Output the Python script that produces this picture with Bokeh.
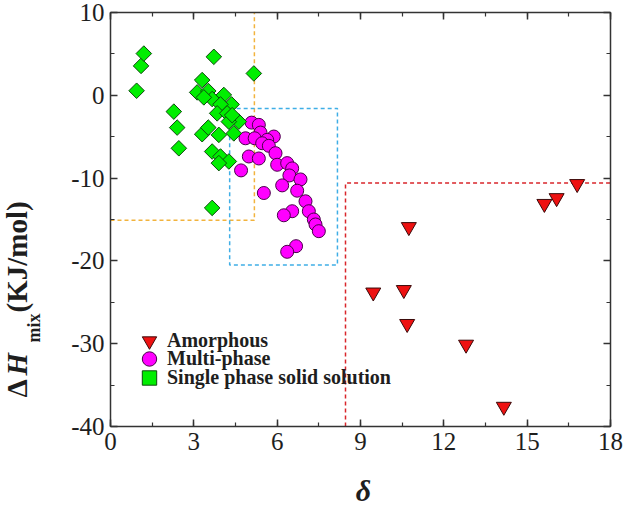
import numpy as np
from bokeh.plotting import figure
from bokeh.layouts import row, column
from bokeh.models import (Legend, LegendItem, LinearAxis, SingleIntervalTicker,
                          Range1d, PrintfTickFormatter)
from bokeh.core.properties import value
from bokeh.embed import file_html
from bokeh.resources import INLINE

# ---------------- data ----------------
amor_x = [16.8, 16.06, 15.62, 10.74, 9.46, 10.56, 10.68, 12.8, 14.16]
amor_y = [-10.7, -12.4, -13.1, -15.9, -23.8, -23.5, -27.6, -30.1, -37.6]

multi_x = [5.08, 5.34, 4.86, 5.40, 5.19, 5.88, 5.64, 5.46, 5.70, 5.94,
           4.98, 5.34, 6.00, 6.36, 6.54, 4.70, 6.44, 6.84, 6.18, 6.72,
           5.52, 7.02, 7.14, 6.54, 6.24, 7.32, 7.38, 7.50, 6.68, 6.36]
multi_y = [-3.3, -3.57, -5.19, -4.5, -5.19, -4.98, -5.38, -5.79, -6.1, -6.99,
           -7.39, -7.63, -8.39, -8.19, -8.83, -9.07, -9.68, -10.16, -10.88, -11.52,
           -11.8, -12.8, -14.0, -14.0, -14.49, -15.0, -15.6, -16.41, -18.22, -18.9]

single_x = [0.94, 1.10, 1.20, 2.28, 2.40, 2.46, 3.72, 5.16, 3.30, 3.12,
            3.52, 3.66, 4.08, 4.36, 3.96, 3.84, 4.20, 4.62, 4.26, 3.30,
            3.52, 3.90, 4.44, 3.66, 3.96, 4.26, 3.90, 3.66, 4.38, 3.36]
single_y = [0.55, 3.55, 5.04, -1.97, -3.9, -6.4, 4.65, 2.64, 1.84, 0.35,
            0.52, -0.45, 0.04, -1.1, -1.1, -2.18, -2.18, -3.18, -3.18, -4.7,
            -3.9, -4.78, -4.6, -6.79, -7.39, -7.99, -8.19, -13.6, -2.4, -0.25]

# threshold regions
ss_delta_max, ss_h_min = 5.18, -15.1                     # orange
mp_box = (4.29, 8.17, -20.5, -1.58)                      # blue: x0, x1, y0, y1
am_delta_min, am_h_max = 8.46, -10.6                     # red

labels = ["Amorphous", "Multi-phase", "Single phase solid solution"]
x_tick_interval, y_tick_interval = 3, 10

SERIF = "Liberation Serif"
INK = "#1e1e1e"

LEFT_W = 46
MAIN_W, MAIN_H = 637 - LEFT_W, 470
BOT_H = 508 - MAIN_H

# ---------------- main plot ----------------
p = figure(width=MAIN_W, height=MAIN_H, output_backend="svg", toolbar_location=None,
           x_range=Range1d(0, 18), y_range=Range1d(-40, 10),
           x_axis_type=None, y_axis_type=None,
           min_border_left=110 - LEFT_W, min_border_right=27,
           min_border_top=12, min_border_bottom=MAIN_H - 426)
p.outline_line_color = None
p.background_fill_color = "white"
p.border_fill_color = "white"


def style_axis(ax, show_labels):
    ax.axis_line_color = "#333333"
    ax.axis_line_width = 1.5
    ax.major_tick_line_color = "#333333"
    ax.minor_tick_line_color = "#333333"
    ax.major_tick_line_width = 1.5
    ax.minor_tick_line_width = 1.2
    ax.major_tick_in = 7
    ax.major_tick_out = 0
    ax.minor_tick_in = 4
    ax.minor_tick_out = 0
    ax.formatter = PrintfTickFormatter(format="%d")
    if show_labels:
        ax.major_label_text_font = SERIF
        ax.major_label_text_font_size = "25px"
        ax.major_label_text_color = INK
        ax.major_label_standoff = 6
    else:
        ax.major_label_text_font_size = "0px"
        ax.major_label_text_color = None
        ax.major_label_standoff = 0


xb = LinearAxis(ticker=SingleIntervalTicker(interval=x_tick_interval, num_minor_ticks=2))
style_axis(xb, True)
p.add_layout(xb, "below")

xt = LinearAxis(ticker=SingleIntervalTicker(interval=x_tick_interval, num_minor_ticks=2))
style_axis(xt, False)
p.add_layout(xt, "above")

yl = LinearAxis(ticker=SingleIntervalTicker(interval=y_tick_interval, num_minor_ticks=2))
style_axis(yl, True)
p.add_layout(yl, "left")

yr = LinearAxis(ticker=SingleIntervalTicker(interval=y_tick_interval, num_minor_ticks=2))
style_axis(yr, False)
p.add_layout(yr, "right")

# threshold dashed lines
p.line([0, ss_delta_max, ss_delta_max], [ss_h_min, ss_h_min, 10],
       line_color="#F2B33D", line_width=1.5, line_dash="4 3")
bx0, bx1, by0, by1 = mp_box
p.line([bx0, bx1, bx1, bx0, bx0], [by1, by1, by0, by0, by1],
       line_color="#3FAEE6", line_width=1.5, line_dash="4 3")
p.line([am_delta_min, am_delta_min, 18], [-40, am_h_max, am_h_max],
       line_color="#D9262B", line_width=1.5, line_dash="4 3")

# scatter series
r_am = p.scatter(amor_x, amor_y, marker="inverted_triangle", size=15,
                 fill_color="#EE1111", line_color="#3A0A0A", line_width=1)
r_mp = p.scatter(multi_x, multi_y, marker="circle", size=13,
                 fill_color="#FF00FF", line_color="#4A004A", line_width=1)
r_ss = p.scatter(single_x, single_y, marker="square", angle=np.pi / 4, size=11,
                 fill_color="#00EE00", line_color="#0E4A0E", line_width=1)

# one legend per row so the rows can sit closer than the glyph box
for lab, rend, ybot in zip(labels, [r_am, r_mp, r_ss], [67, 49, 30]):
    lg = Legend(items=[LegendItem(label=lab, renderers=[rend])], location=(21, ybot))
    lg.label_text_font = SERIF
    lg.label_text_font_style = "bold"
    lg.label_text_font_size = "20px"
    lg.label_text_color = INK
    lg.glyph_width = 36
    lg.glyph_height = 37
    lg.label_height = 18
    lg.label_standoff = 0
    lg.padding = 0
    lg.margin = 0
    lg.border_line_color = None
    lg.background_fill_alpha = 0
    p.add_layout(lg)

# ---------------- y-axis title strip ----------------
ly = figure(width=LEFT_W, height=508, output_backend="svg", toolbar_location=None,
            x_range=Range1d(0, LEFT_W), y_range=Range1d(0, 508),
            x_axis_type=None, y_axis_type=None, min_border=0)
ly.outline_line_color = None
ly.background_fill_color = "white"
ly.border_fill_color = "white"
common = dict(angle=np.pi / 2, text_font=value(SERIF), text_color=INK,
              text_align="left", text_baseline="middle")
ly.text(x=[16.5], y=[111], text=["Δ"], text_font_style="bold",
        text_font_size="29px", **common)
ly.text(x=[16.5], y=[133], text=["H"], text_font_style="bold italic",
        text_font_size="29px", **common)
ly.text(x=[33.5], y=[166], text=["mix"], text_font_style="bold",
        text_font_size="18px", **common)
ly.text(x=[16.5], y=[196], text=["(KJ/mol)"], text_font_style="bold",
        text_font_size="29px", **common)

# ---------------- x-axis title strip ----------------
bx = figure(width=MAIN_W, height=BOT_H, output_backend="svg", toolbar_location=None,
            x_range=Range1d(0, MAIN_W), y_range=Range1d(0, BOT_H),
            x_axis_type=None, y_axis_type=None, min_border=0)
bx.outline_line_color = None
bx.background_fill_color = "white"
bx.border_fill_color = "white"
bx.text(x=[303 + 42 - LEFT_W], y=[18], text=["δ"], text_font=value(SERIF),
        text_font_style="bold italic", text_font_size="30px", text_color=INK,
        text_align="center", text_baseline="middle")

layout = row(ly, column(p, bx, spacing=0), spacing=0)
open("out.html", "w").write(file_html(layout, INLINE))
